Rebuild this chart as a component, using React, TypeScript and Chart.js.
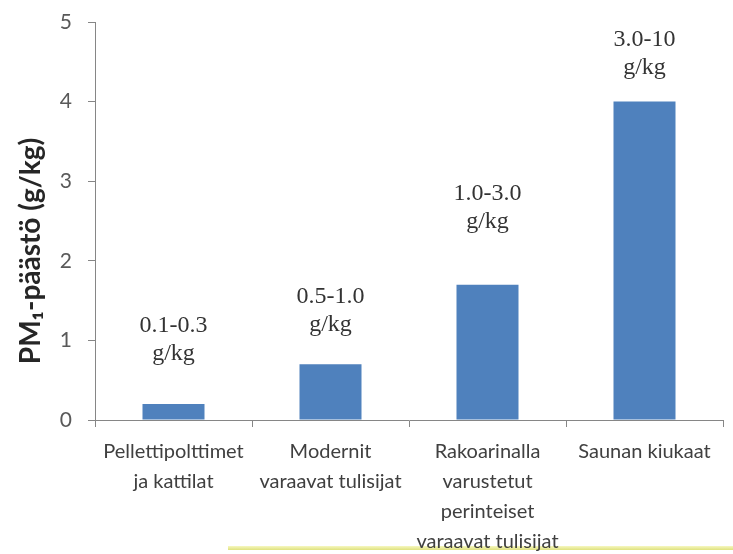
import React, { useEffect, useRef } from "react";
import { Chart, registerables } from "chart.js";

Chart.register(...registerables);

const categories: string[][] = [
  ["Pellettipolttimet", "ja kattilat"],
  ["Modernit", "varaavat tulisijat"],
  ["Rakoarinalla", "varustetut", "perinteiset", "varaavat tulisijat"],
  ["Saunan kiukaat"],
];
const values: number[] = [0.2, 0.7, 1.7, 4.0];
const rangeLabels: string[][] = [
  ["0.1-0.3", "g/kg"],
  ["0.5-1.0", "g/kg"],
  ["1.0-3.0", "g/kg"],
  ["3.0-10", "g/kg"],
];
const rangeLabelLevels: number[] = [0.75, 1.12, 2.41, 4.35];
const yTitle = "PM\u2081-päästö (g/kg)";

const rangeLabelPlugin = {
  id: "rangeLabels",
  afterDatasetsDraw(chart: any) {
    const ctx = chart.ctx;
    const meta = chart.getDatasetMeta(0);
    const y = chart.scales.y;
    ctx.save();
    ctx.font = "24px 'Liberation Serif', serif";
    ctx.fillStyle = "#333333";
    ctx.textAlign = "center";
    ctx.textBaseline = "alphabetic";
    meta.data.forEach((bar: any, i: number) => {
      const lines = rangeLabels[i];
      const base = y.getPixelForValue(rangeLabelLevels[i]);
      const lh = 28;
      lines.forEach((t, j) => {
        ctx.fillText(t, bar.x, base - (lines.length - 1 - j) * lh);
      });
    });
    // y axis title
    const area = chart.chartArea;
    ctx.translate(31, (area.top + area.bottom) / 2 + 30);
    ctx.rotate(-Math.PI / 2);
    ctx.font = "bold 28px Lato, sans-serif";
    ctx.fillStyle = "#262626";
    ctx.textAlign = "center";
    ctx.textBaseline = "middle";
    ctx.fillText(yTitle, 0, 0);
    ctx.restore();
  },
};

export default function App() {
  const ref = useRef<HTMLCanvasElement>(null);
  useEffect(() => {
    if (!ref.current) return;
    const chart = new Chart(ref.current, {
      type: "bar",
      data: {
        labels: categories as any,
        datasets: [
          {
            data: values,
            backgroundColor: "#4f81bd",
            barPercentage: 0.395,
            categoryPercentage: 1,
          },
        ],
      },
      options: {
        animation: false,
        responsive: false,
        maintainAspectRatio: false,
        layout: { padding: { top: 22, right: 10, left: 0, bottom: 0 } },
        plugins: { legend: { display: false }, tooltip: { enabled: false } },
        scales: {
          x: {
            grid: {
              offset: true,
              drawOnChartArea: false,
              drawTicks: true,
              tickLength: 7,
              color: "#868686",
            },
            border: { display: true, color: "#868686" },
            ticks: {
              font: { family: "Lato", size: 20, lineHeight: 1.5 },
              color: "#404040",
              maxRotation: 0,
              autoSkip: false,
              padding: 10,
            },
            afterFit: (s: any) => {
              s.height = 134;
              s.paddingLeft = 0;
              s.paddingRight = 0;
            },
          },
          y: {
            min: 0,
            max: 5,
            ticks: {
              stepSize: 1,
              font: { family: "Lato", size: 21 },
              color: "#595959",
              padding: 16,
            },
            grid: {
              drawOnChartArea: false,
              drawTicks: true,
              tickLength: 7,
              color: "#868686",
            },
            border: { display: true, color: "#868686" },
            afterFit: (s: any) => {
              s.width = 95;
              s.paddingTop = 0;
              s.paddingBottom = 0;
            },
          },
        },
      },
      plugins: [rangeLabelPlugin],
    });
    return () => chart.destroy();
  }, []);
  return (
    <div style={{ position: "fixed", left: 0, top: 0, width: 733, height: 554, background: "#ffffff" }}>
      <div
        style={{
          position: "absolute",
          left: 228,
          top: 546,
          width: 505,
          height: 4,
          background: "linear-gradient(#f6f7c0, #dfe27e)",
        }}
      />
      <canvas ref={ref} width={733} height={554} style={{ display: "block", position: "relative" }} />
    </div>
  );
}
